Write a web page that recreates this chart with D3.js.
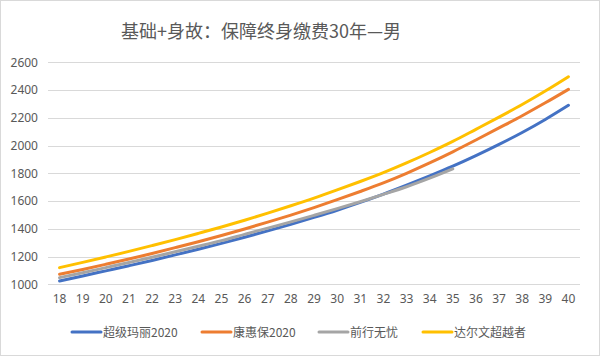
<!DOCTYPE html>
<html>
<head>
<meta charset="utf-8">
<script src="https://cdn.jsdelivr.net/npm/d3@7"></script>
<style>
  html, body { margin: 0; padding: 0; background: #fff; }
  svg { display: block; }
  text { font-family: "Noto Sans CJK SC", "Noto Sans", sans-serif; }
</style>
</head>
<body>
<svg id="chart" width="600" height="356"></svg>
<script>
const title = "基础+身故：保障终身缴费30年—男";
const ages = ["18","19","20","21","22","23","24","25","26","27","28","29","30","31","32","33","34","35","36","37","38","39","40"];
const yTicks = [1000, 1200, 1400, 1600, 1800, 2000, 2200, 2400, 2600];
const seriesNames = ["超级玛丽2020", "康惠保2020", "前行无忧", "达尔文超越者"];
const seriesColors = ["#4472C4", "#ED7D31", "#A5A5A5", "#FFC000"];
const marioValues = [1024,1060,1097,1134,1172,1212,1253,1295,1339,1385,1432,1482,1534,1590,1650,1714,1781,1851,1927,2008,2094,2188,2290];
const kanghuiValues = [1072,1107,1144,1182,1222,1264,1307,1352,1399,1448,1499,1553,1610,1669,1731,1800,1875,1955,2040,2127,2215,2308,2405];
const qianxingValues = [1048,1083,1120,1157,1195,1234,1274,1315,1360,1405,1450,1497,1545,1595,1648,1703,1765,1832];
const darwinValues = [1120,1158,1197,1237,1279,1322,1367,1413,1462,1513,1566,1621,1680,1741,1805,1875,1950,2030,2117,2205,2296,2393,2496];
const seriesValues = [marioValues, kanghuiValues, qianxingValues, darwinValues];

const svg = d3.select("#chart");
const W = 600, H = 356;
const m = { left: 48, right: 20, top: 62.3, bottom: 71.7 };

svg.append("rect").attr("x", 0.5).attr("y", 0.5).attr("width", W - 1).attr("height", H - 1)
  .attr("fill", "#fff").attr("stroke", "#d9d9d9");

const x = d3.scaleBand().domain(ages).range([m.left, W - m.right]);
const y = d3.scaleLinear().domain([1000, 2600]).range([H - m.bottom, m.top]);

// gridlines
svg.append("g").selectAll("line").data(yTicks).join("line")
  .attr("x1", m.left).attr("x2", W - m.right)
  .attr("y1", d => Math.round(y(d)) + 0.5).attr("y2", d => Math.round(y(d)) + 0.5)
  .attr("stroke", "#d9d9d9").attr("stroke-width", 1);

// y axis
const yAxis = svg.append("g").attr("transform", `translate(${m.left},0)`)
  .call(d3.axisLeft(y).tickValues(yTicks).tickSize(0).tickPadding(10).tickFormat(d3.format("d")));
yAxis.select(".domain").remove();
yAxis.selectAll("text").attr("fill", "#595959").style("font-size", "12px")
  .style("font-family", "'Noto Sans', 'Liberation Sans', sans-serif");

// x axis
const xAxis = svg.append("g").attr("transform", `translate(0,${H - m.bottom})`)
  .call(d3.axisBottom(x).tickSize(0).tickPadding(10));
xAxis.select(".domain").remove();
xAxis.selectAll("text").attr("fill", "#595959").style("font-size", "12px")
  .style("font-family", "'Noto Sans', 'Liberation Sans', sans-serif");

// lines
const line = d3.line()
  .x((d, i) => x(ages[i]) + x.bandwidth() / 2)
  .y(d => y(d))
  .curve(d3.curveMonotoneX);

seriesValues.forEach((vals, k) => {
  svg.append("path").datum(vals)
    .attr("d", line)
    .attr("fill", "none")
    .attr("stroke", seriesColors[k])
    .attr("stroke-width", 3)
    .attr("stroke-linecap", "round")
    .attr("stroke-linejoin", "round");
});

// title
svg.append("text").attr("x", 261).attr("y", 38)
  .attr("text-anchor", "middle").attr("fill", "#595959")
  .style("font-size", "18px").text(title);

// legend
const legendX = [72, 202, 319, 423];
const legend = svg.append("g");
seriesNames.forEach((name, k) => {
  const g = legend.append("g").attr("transform", `translate(${legendX[k]},332)`);
  g.append("line").attr("x1", 0).attr("x2", 29).attr("y1", 0).attr("y2", 0)
    .attr("stroke", seriesColors[k]).attr("stroke-width", 3).attr("stroke-linecap", "round");
  g.append("text").attr("x", 31).attr("y", 4.5).attr("fill", "#595959")
    .style("font-size", "12px").text(name);
});
</script>
</body>
</html>
